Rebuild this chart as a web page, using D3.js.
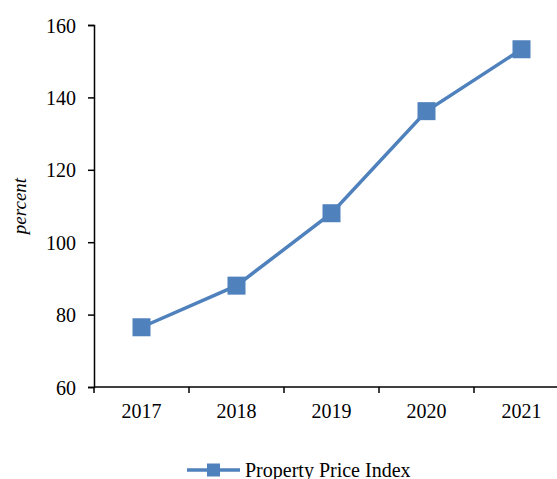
<!DOCTYPE html>
<meta charset="utf-8">
<style>
body { margin: 0; background: #fff; }
svg { display: block; }
.axis path, .axis line { stroke: #000; stroke-width: 1.5; fill: none; }
.axis text { font: 20px "Liberation Serif", "Times New Roman", serif; fill: #000; }
</style>
<svg width="557" height="479"></svg>
<script src="https://d3js.org/d3.v7.min.js"></script>
<script>

var years = ["2017", "2018", "2019", "2020", "2021"];
var priceIndex = [76.5, 88, 108, 136.2, 153.3];
var yTicks = [60, 80, 100, 120, 140, 160];
var seriesName = "Property Price Index";

var svg = d3.select("svg"),
    margin = {top: 25, left: 94, bottom: 92},
    height = +svg.attr("height") - margin.top - margin.bottom;

var color = "#4f81bd";

var x = d3.scaleBand()
    .domain(years)
    .range([0, 475]);

var y = d3.scaleLinear()
    .domain([60, 160])
    .range([height, 0]);

var g = svg.append("g")
    .attr("transform", "translate(" + margin.left + "," + margin.top + ")");

// x axis: ticks on the band edges, labels in the middle
var xAxis = g.append("g")
    .attr("class", "axis")
    .attr("transform", "translate(0," + height + ")");

xAxis.append("line")
    .attr("x1", 0).attr("x2", x.range()[1]);

xAxis.selectAll(".edge")
    .data(years.concat(["end"]))
    .enter().append("line")
    .attr("class", "edge")
    .attr("x1", function(d, i) { return i * x.bandwidth(); })
    .attr("x2", function(d, i) { return i * x.bandwidth(); })
    .attr("y1", 0).attr("y2", 6);

xAxis.selectAll("text")
    .data(years)
    .enter().append("text")
    .attr("x", function(d) { return x(d) + x.bandwidth() / 2; })
    .attr("y", 31)
    .attr("text-anchor", "middle")
    .text(function(d) { return d; });

// y axis
g.append("g")
    .attr("class", "axis")
    .call(d3.axisLeft(y).tickValues(yTicks).tickSize(6).tickSizeOuter(6).tickPadding(12))
    .selectAll("text").attr("dy", "0.35em");

g.append("text")
    .attr("transform", "translate(" + (20 - margin.left) + "," + (y(110)) + ") rotate(-90)")
    .attr("text-anchor", "middle")
    .attr("dy", "0.3em")
    .style("font", "italic 19px 'Liberation Serif', serif")
    .text("percent");

var line = d3.line()
    .x(function(d, i) { return x(years[i]) + x.bandwidth() / 2; })
    .y(function(d) { return y(d); });

g.append("path")
    .datum(priceIndex)
    .attr("d", line)
    .attr("fill", "none")
    .attr("stroke", color)
    .attr("stroke-width", 3.5);

var m = 18;
g.selectAll(".marker")
    .data(priceIndex)
    .enter().append("rect")
    .attr("class", "marker")
    .attr("x", function(d, i) { return x(years[i]) + x.bandwidth() / 2 - m / 2; })
    .attr("y", function(d) { return y(d) - m / 2; })
    .attr("width", m).attr("height", m)
    .attr("fill", color);

// legend
var legend = svg.append("g")
    .attr("transform", "translate(187,470)");

legend.append("line")
    .attr("x1", 0).attr("x2", 53)
    .attr("stroke", color).attr("stroke-width", 3.5);

legend.append("rect")
    .attr("x", 20).attr("y", -6.5)
    .attr("width", 13).attr("height", 13)
    .attr("fill", color);

legend.append("text")
    .attr("x", 58).attr("y", 0)
    .attr("dy", "0.35em")
    .style("font", "20px 'Liberation Serif', serif")
    .text(seriesName);

</script>
